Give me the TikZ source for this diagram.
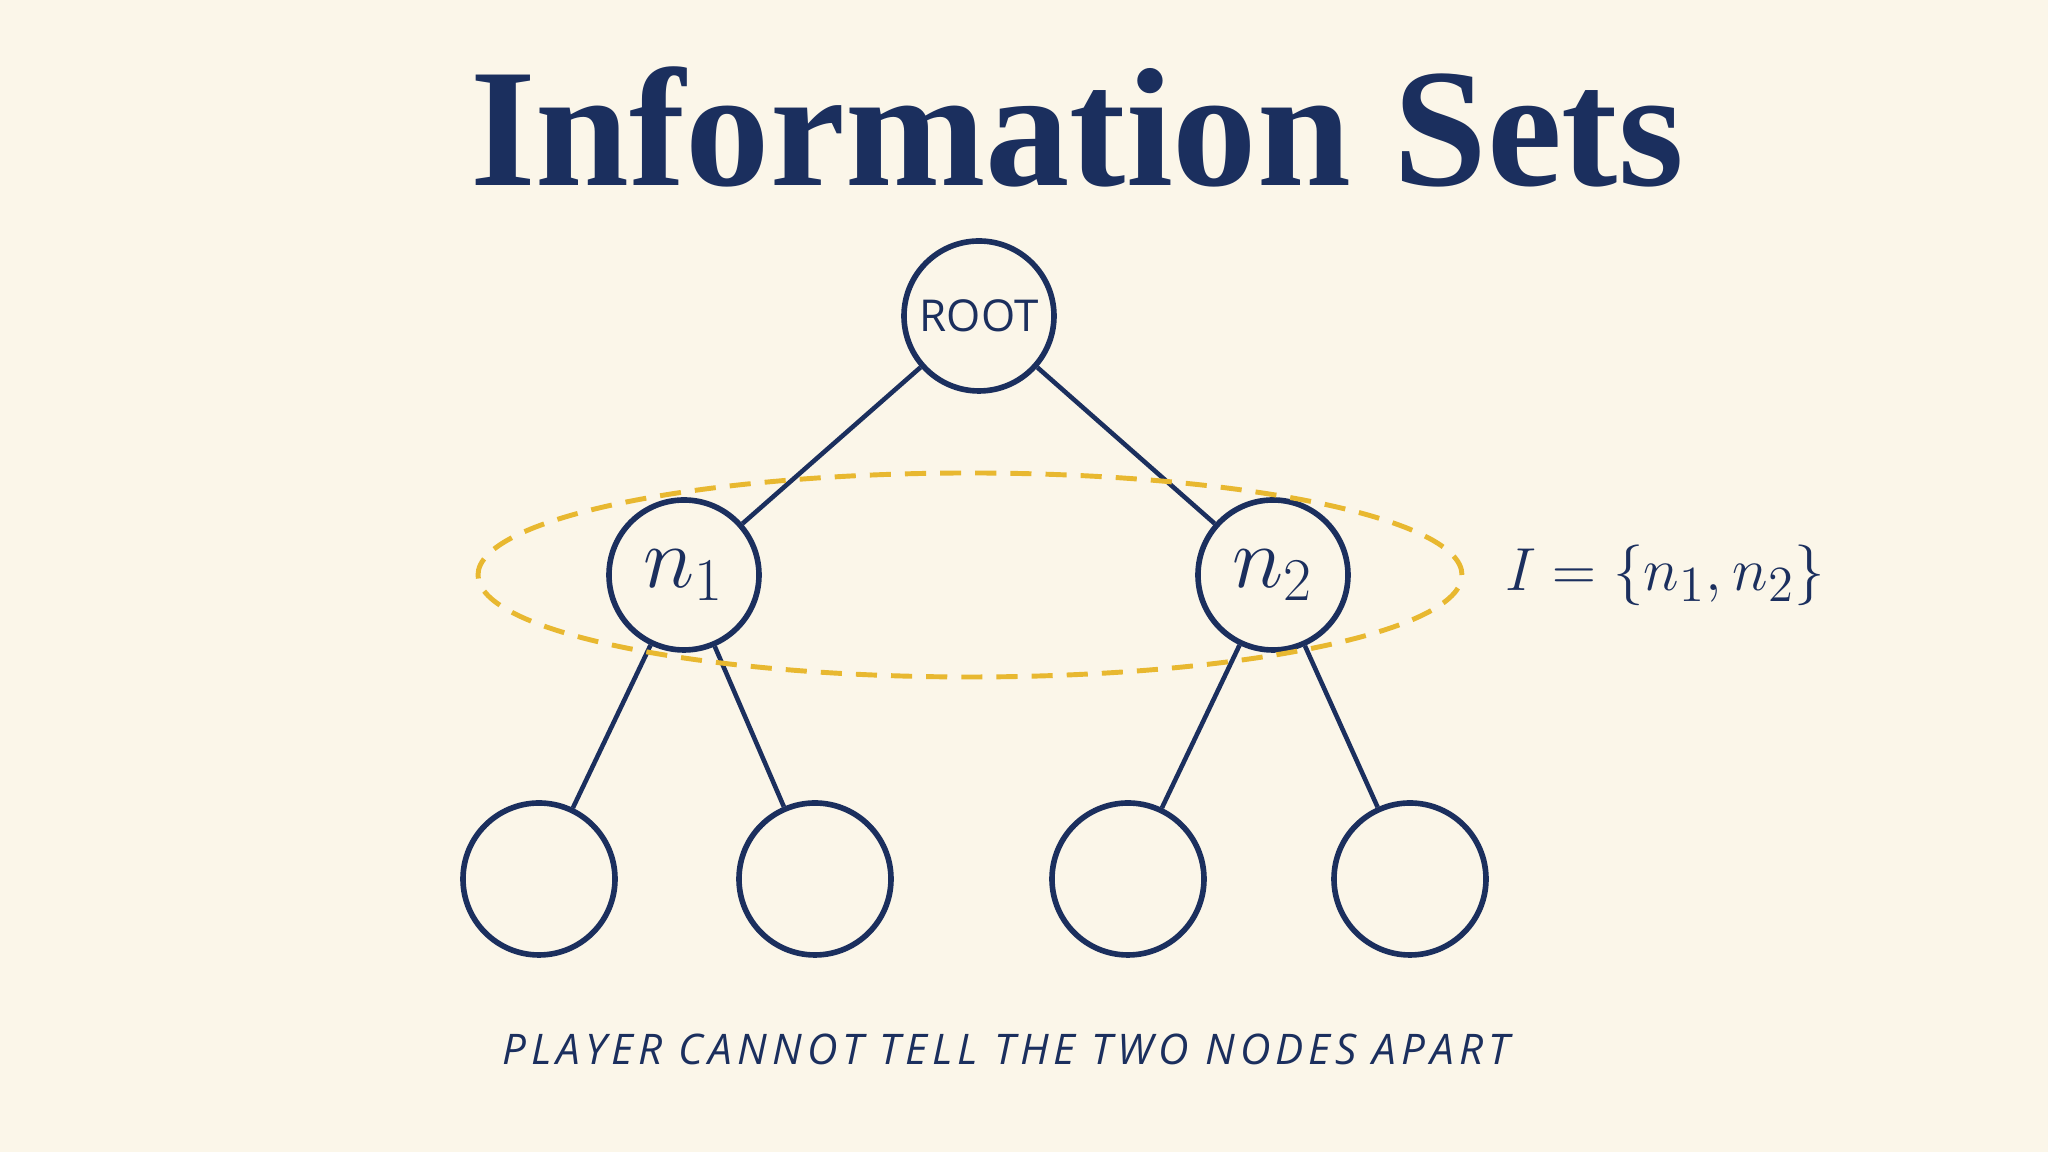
\documentclass[tikz,border=0pt]{standalone}
\usepackage{fontspec}
\setsansfont{Open Sans}
\newfontfamily\titlefont{Liberation Serif}
\usetikzlibrary{positioning}
\definecolor{navy}{HTML}{1B2F5E}
\definecolor{paper}{HTML}{FBF6E9}
\definecolor{gold}{HTML}{E8B830}
\begin{document}
\begin{tikzpicture}[
    tnode/.style={circle,draw=navy,line width=1.6pt,minimum size=1.5cm,inner sep=0pt,text=navy},
    leaf/.style={tnode,minimum size=1.52cm},
    edge/.style={draw=navy,line width=1.3pt}]
    \fill[paper] (0,0) rectangle (20.48,11.52);
    \useasboundingbox (0,0) rectangle (20.48,11.52);
    \node[text=navy,font=\titlefont\fontsize{48}{54}\selectfont\bfseries] (title) at (10.77,10.25) {Information Sets};
    
    \node[tnode] (root) at (9.79,8.36) {\sffamily\fontsize{12.5}{15}\selectfont ROOT};
    \node[tnode] (n1) at (6.84,5.77) {\fontsize{24}{26}\selectfont$n_1$};
    \node[tnode] (n2) at (12.73,5.77) {\fontsize{24}{26}\selectfont$n_2$};
    \node[leaf] (l1) at (5.39,2.73) {};
    \node[leaf] (l2) at (8.15,2.73) {};
    \node[leaf] (l3) at (11.28,2.73) {};
    \node[leaf] (l4) at (14.10,2.73) {};
    \draw[edge] (root) -- (n1);
    \draw[edge] (root) -- (n2);
    \draw[edge] (n1) -- (l1);
    \draw[edge] (n1) -- (l2);
    \draw[edge] (n2) -- (l3);
    \draw[edge] (n2) -- (l4);
    
    \draw[gold,line width=1.4pt,dash pattern=on 6pt off 4pt] (9.70,5.77) ellipse (4.92cm and 1.02cm);
    \node[text=navy,font=\fontsize{19}{23}\selectfont] (iset) at (16.65,5.77) {$I=\{n_1,n_2\}$};
    \node[text=navy,font=\sffamily\itshape\fontsize{12}{15}\selectfont\addfontfeatures{LetterSpace=12}] (note) at (10.06,1.03)
      {PLAYER CANNOT TELL THE TWO NODES APART};
\end{tikzpicture}
\end{document}
